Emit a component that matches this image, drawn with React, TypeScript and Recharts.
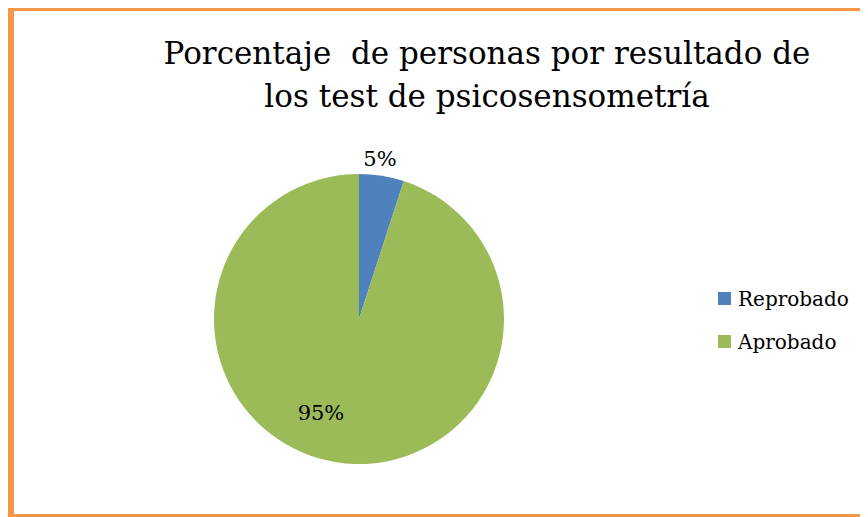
import { PieChart, Pie, Cell, Legend } from 'recharts'

const categories = ['Reprobado', 'Aprobado']
const percentages = [5, 95]
const colors = ['#4F81BD', '#9BBB59']
const titleLines = ['Porcentaje  de personas por resultado de', 'los test de psicosensometría']

const data = categories.map((name, i) => ({ name, value: percentages[i] }))

const RAD = Math.PI / 180
const FONT = 'DejaVu Serif'

function renderLabel(props: any) {
  const { cx, cy, midAngle, outerRadius, index, value } = props
  // small slice label sits outside, big slice label inside (best fit)
  const r = index === 0 ? outerRadius + 16 : outerRadius * 0.7
  const a = index === 0 ? midAngle + 1.5 : midAngle - 13
  const x = cx + r * Math.cos(-a * RAD)
  const y = cy + r * Math.sin(-a * RAD)
  return (
    <text x={x} y={y} textAnchor="middle" dominantBaseline="central"
          fontFamily={FONT} fontSize={21} fill="#000">
      {value}%
    </text>
  )
}

function LegendContent() {
  return (
    <div style={{ fontFamily: FONT, fontSize: 20, color: '#000' }}>
      {categories.map((c, i) => (
        <div key={c} style={{ display: 'flex', alignItems: 'center', height: 43 }}>
          <span style={{ width: 13, height: 13, background: colors[i], marginRight: 7, display: 'inline-block' }} />
          {c}
        </div>
      ))}
    </div>
  )
}

export default function App() {
  return (
    <div style={{
      position: 'relative', width: 854, height: 503, background: '#fff',
      borderTop: '3px solid #F79646', borderLeft: '6px solid #F79646', borderBottom: '3px solid #F79646',
    }}>
      <div style={{
        position: 'absolute', left: 0, top: 21, width: 946, textAlign: 'center',
        fontFamily: FONT, fontSize: 31, lineHeight: '43px', color: '#000', whiteSpace: 'pre',
      }}>
        {titleLines.map(t => <div key={t}>{t}</div>)}
      </div>
      <PieChart width={854} height={503} style={{ position: 'absolute', left: 0, top: 0 }}>
        <Pie data={data} dataKey="value" nameKey="name" cx={340} cy={303} outerRadius={145}
             startAngle={90} endAngle={-270} stroke="none" label={renderLabel} labelLine={false}
             isAnimationActive={false}>
          {data.map((d, i) => <Cell key={d.name} fill={colors[i]} />)}
        </Pie>
        <Legend layout="vertical" align="right" verticalAlign="top" content={<LegendContent />}
                wrapperStyle={{ left: 704, top: 266, width: 150 }} />
      </PieChart>
    </div>
  )
}
